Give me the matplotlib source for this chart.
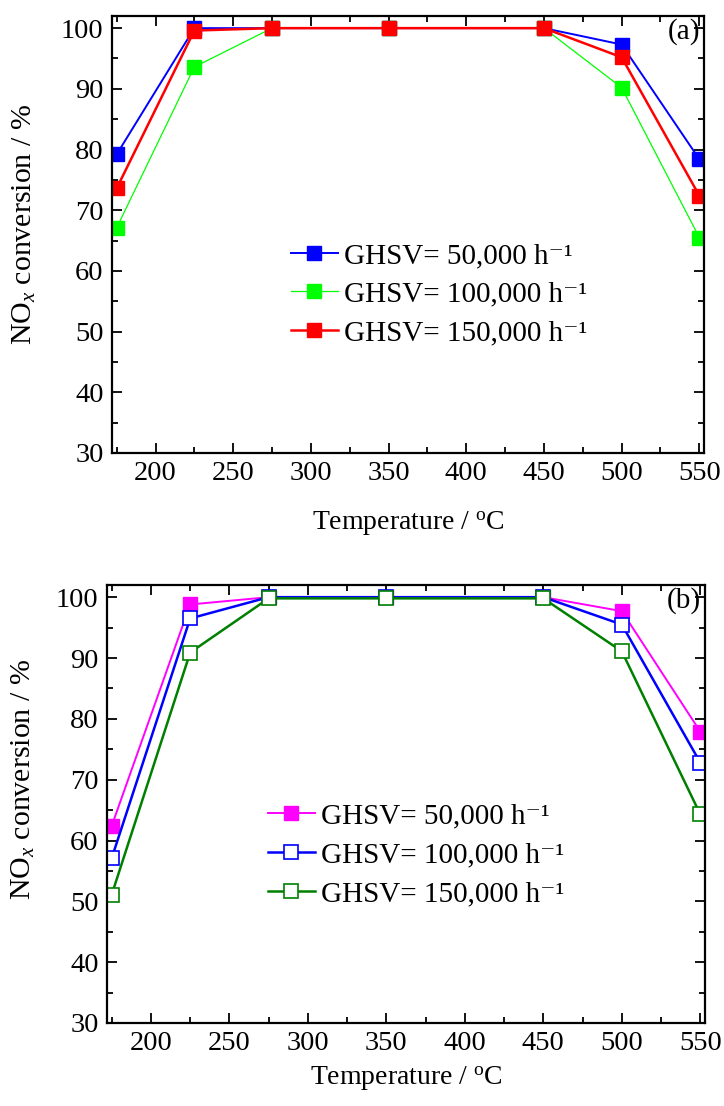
import matplotlib
matplotlib.use("Agg")
import matplotlib.pyplot as plt
from matplotlib.ticker import MultipleLocator

plt.rcParams['font.family'] = ['Liberation Serif', 'DejaVu Serif']
plt.rcParams['mathtext.fontset'] = 'custom'
plt.rcParams['mathtext.rm'] = 'Liberation Serif'
plt.rcParams['mathtext.it'] = 'Liberation Serif:italic'

# --- data ---
temps = [175, 225, 275, 350, 450, 500, 550]

a_50k = [79.2, 100.0, 100.0, 100.0, 100.0, 97.3, 78.4]
a_100k = [67.1, 93.6, 100.0, 100.0, 100.0, 90.2, 65.5]
a_150k = [73.6, 99.6, 100.0, 100.0, 100.0, 95.2, 72.4]

b_50k = [62.4, 98.8, 100.0, 100.0, 100.0, 97.7, 77.9]
b_100k = [57.1, 96.5, 100.0, 100.0, 100.0, 95.5, 72.8]
b_150k = [51.1, 90.9, 99.8, 99.8, 99.8, 91.1, 64.3]

labels = ["GHSV= 50,000 h\u207b\u00b9",
          "GHSV= 100,000 h\u207b\u00b9",
          "GHSV= 150,000 h\u207b\u00b9"]

FS = 20
W, H = 724, 1106

fig = plt.figure(figsize=(W / 100, H / 100), dpi=100)


def make_axes(left, right, top, bottom):
    return fig.add_axes([left / W, 1 - bottom / H, (right - left) / W, (bottom - top) / H])


def style_axes(ax, tag, xlab_y, ylab_xy):
    ax.set_xlim(172, 553)
    ax.set_ylim(30, 102)
    ax.xaxis.set_major_locator(MultipleLocator(50))
    ax.xaxis.set_minor_locator(MultipleLocator(25))
    ax.yaxis.set_major_locator(MultipleLocator(10))
    ax.yaxis.set_minor_locator(MultipleLocator(5))
    ax.tick_params(which='both', direction='in', top=True, right=True,
                   labelsize=FS + 0.5, width=1.3)
    ax.tick_params(which='major', length=7, pad=6)
    ax.tick_params(which='minor', length=4)
    for sp in ax.spines.values():
        sp.set_linewidth(1.6)
    ax.set_xlabel("Temperature / $^{\\rm o}$C", fontsize=FS)
    ax.set_ylabel("NO$_{x}$ conversion / %", fontsize=FS + 1.5)
    ax.xaxis.set_label_coords(0.5, xlab_y)
    ax.yaxis.set_label_coords(*ylab_xy)
    ax.text(0.993, 0.996, tag, transform=ax.transAxes, ha='right', va='top', fontsize=FS + 1)


def add_legend(ax, anchor):
    ax.legend(loc='upper left', bbox_to_anchor=anchor, frameon=False, fontsize=FS + 1,
              handlelength=1.6, handletextpad=0.2, labelspacing=0.42, borderpad=0)


# panel (a)
ax1 = make_axes(112, 704, 16, 453)
ax1.plot(temps, a_50k, color='#0000ff', lw=1.4, marker='s', ms=9.5, mfc='#0000ff', mec='#0000ff', label=labels[0])
ax1.plot(temps, a_100k, color='#00ff00', lw=0.9, marker='s', ms=9.5, mfc='#00ff00', mec='#00ff00', label=labels[1])
ax1.plot(temps, a_150k, color='#ff0000', lw=1.8, marker='s', ms=9.5, mfc='#ff0000', mec='#ff0000', label=labels[2])
style_axes(ax1, "(a)", -0.13, (-0.125, 0.522))
add_legend(ax1, (0.278, 0.515))

# panel (b)
ax2 = make_axes(107, 705, 585, 1023)
ax2.plot(temps, b_50k, color='#ff00ff', lw=1.4, marker='s', ms=9.5, mfc='#ff00ff', mec='#ff00ff', label=labels[0])
ax2.plot(temps, b_100k, color='#0000ff', lw=1.8, marker='s', ms=9.5, mfc='white', mec='#0000ff', mew=1.2, label=labels[1])
ax2.plot(temps, b_150k, color='#008000', lw=1.8, marker='s', ms=9.5, mfc='white', mec='#008000', mew=1.2, label=labels[2])
style_axes(ax2, "(b)", -0.096, (-0.117, 0.555))
add_legend(ax2, (0.245, 0.535))

fig.savefig("out.png", dpi=100)
